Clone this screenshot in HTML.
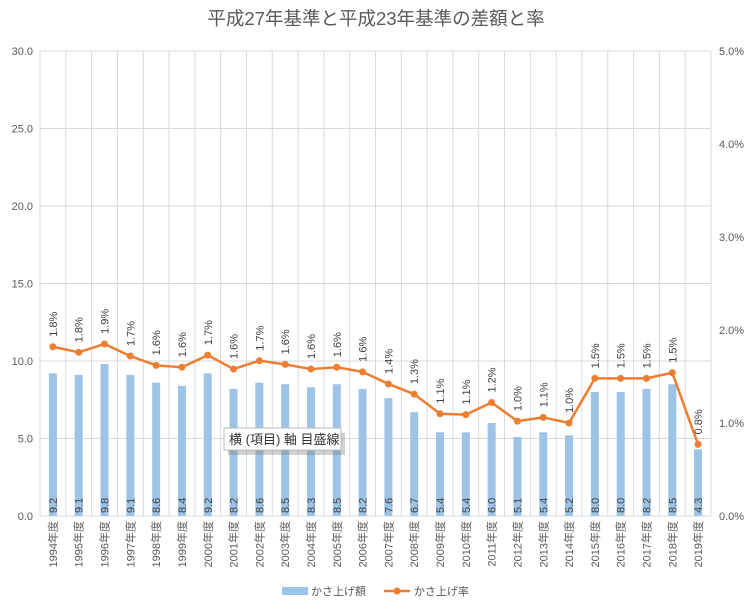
<!DOCTYPE html>
<html><head><meta charset="utf-8">
<style>
body{margin:0;background:#fff;}
svg text{font-family:"Liberation Sans","Noto Sans CJK JP",sans-serif;}
</style></head>
<body>
<svg id="chart" width="752" height="609" xmlns="http://www.w3.org/2000/svg">
<rect width="752" height="609" fill="#fff"/>
<text x="376" y="25" text-anchor="middle" font-size="18.5" fill="#595959">平成27年基準と平成23年基準の差額と率</text>
<g id="grid"></g><g id="bars"></g><g id="line"></g><g id="labels"></g>
<g>
<rect x="226" y="431" width="117" height="22" fill="#777" opacity="0.35" transform="translate(2,2)"/>
<rect x="224" y="428" width="117" height="22" fill="#fff" stroke="#bbb"/>
<text x="229" y="444" font-size="13" fill="#333">横 (項目) 軸 目盛線</text>
</g>
<g>
<rect x="282" y="587" width="26" height="8" fill="#9dc3e6"/>
<text x="311" y="595" font-size="11" fill="#595959">かさ上げ額</text>
<line x1="384" y1="591" x2="410" y2="591" stroke="#ed7d31" stroke-width="2.5"/>
<circle cx="397" cy="591" r="3.5" fill="#ed7d31"/>
<text x="414" y="595" font-size="11" fill="#595959">かさ上げ率</text>
</g>
</svg>
<script>
const categories=["1994","1995","1996","1997","1998","1999","2000","2001","2002","2003","2004","2005","2006","2007","2008","2009","2010","2011","2012","2013","2014","2015","2016","2017","2018","2019"];
const amounts=[9.2,9.1,9.8,9.1,8.6,8.4,9.2,8.2,8.6,8.5,8.3,8.5,8.2,7.6,6.7,5.4,5.4,6.0,5.1,5.4,5.2,8.0,8.0,8.2,8.5,4.3];
const rates=[1.82,1.76,1.85,1.72,1.62,1.60,1.73,1.58,1.67,1.63,1.58,1.60,1.55,1.42,1.31,1.10,1.09,1.22,1.02,1.06,1.00,1.48,1.48,1.48,1.54,0.77];
const rateLabels=["1.8%","1.8%","1.9%","1.7%","1.6%","1.6%","1.7%","1.6%","1.7%","1.6%","1.6%","1.6%","1.6%","1.4%","1.3%","1.1%","1.1%","1.2%","1.0%","1.1%","1.0%","1.5%","1.5%","1.5%","1.5%","0.8%"];
const leftTicks=[0,5,10,15,20,25,30];
const rightTicks=[0,1,2,3,4,5];
const X0=40,X1=711,Y0=516,Y1=51;
const step=(X1-X0)/categories.length;
const xc=i=>X0+step*(i+0.5);
const yL=v=>Y0-(v/30)*(Y0-Y1);
const yR=v=>Y0-(v/5)*(Y0-Y1);
const NS="http://www.w3.org/2000/svg";
function mk(tag,attrs,parent,txt){const e=document.createElementNS(NS,tag);for(const k in attrs)e.setAttribute(k,attrs[k]);if(txt!==undefined)e.textContent=txt;document.getElementById(parent).appendChild(e);return e;}
leftTicks.forEach(t=>{
 const l=mk('line',{x1:X0,x2:X1,y1:yL(t),y2:yL(t),stroke:'#d9d9d9'},'grid');
 
 
 const tx=mk('text',{x:33,y:yL(t)+4,'text-anchor':'end','font-size':11,fill:'#595959'},'grid',t.toFixed(1));
 
 
});
rightTicks.forEach(t=>{
 const tx=mk('text',{x:719,y:yR(t)+4,'font-size':11,fill:'#595959'},'grid',t.toFixed(1)+'%');
 
 
});
for(let i=0;i<=categories.length;i++){
 const x=X0+step*i;
 const l=mk('line',{x1:x,x2:x,y1:Y1,y2:Y0,stroke:'#d9d9d9'},'grid');
 
 
}
categories.forEach((c,i)=>{
 const x=xc(i);
 const b=mk('rect',{x:x-4,y:yL(amounts[i]),width:8,height:Y0-yL(amounts[i]),fill:'#9dc3e6'},'bars');
 
 
 const v=mk('text',{x:0,y:0,'font-size':11,fill:'#404040',transform:`translate(${x+4},513) rotate(-90)`},'labels',amounts[i].toFixed(1));
 
 
 const cl=mk('text',{x:0,y:0,'font-size':11,fill:'#595959','text-anchor':'end',transform:`translate(${x+4},521) rotate(-90)`},'labels',c+'年度');
 
 
 const rl=mk('text',{x:0,y:0,'font-size':11,fill:'#404040',transform:`translate(${x+4},${yR(rates[i])-10}) rotate(-90)`},'labels',rateLabels[i]);
 
 
});
const pts=rates.map((r,i)=>xc(i)+','+yR(r)).join(' ');
const pl=mk('polyline',{points:pts,fill:'none',stroke:'#ed7d31','stroke-width':2.5,'stroke-linejoin':'round'},'line');


rates.forEach((r,i)=>{
 const p=mk('circle',{cx:xc(i),cy:yR(r),r:3.5,fill:'#ed7d31'},'line');
 
 
});
</script>
</body></html>
